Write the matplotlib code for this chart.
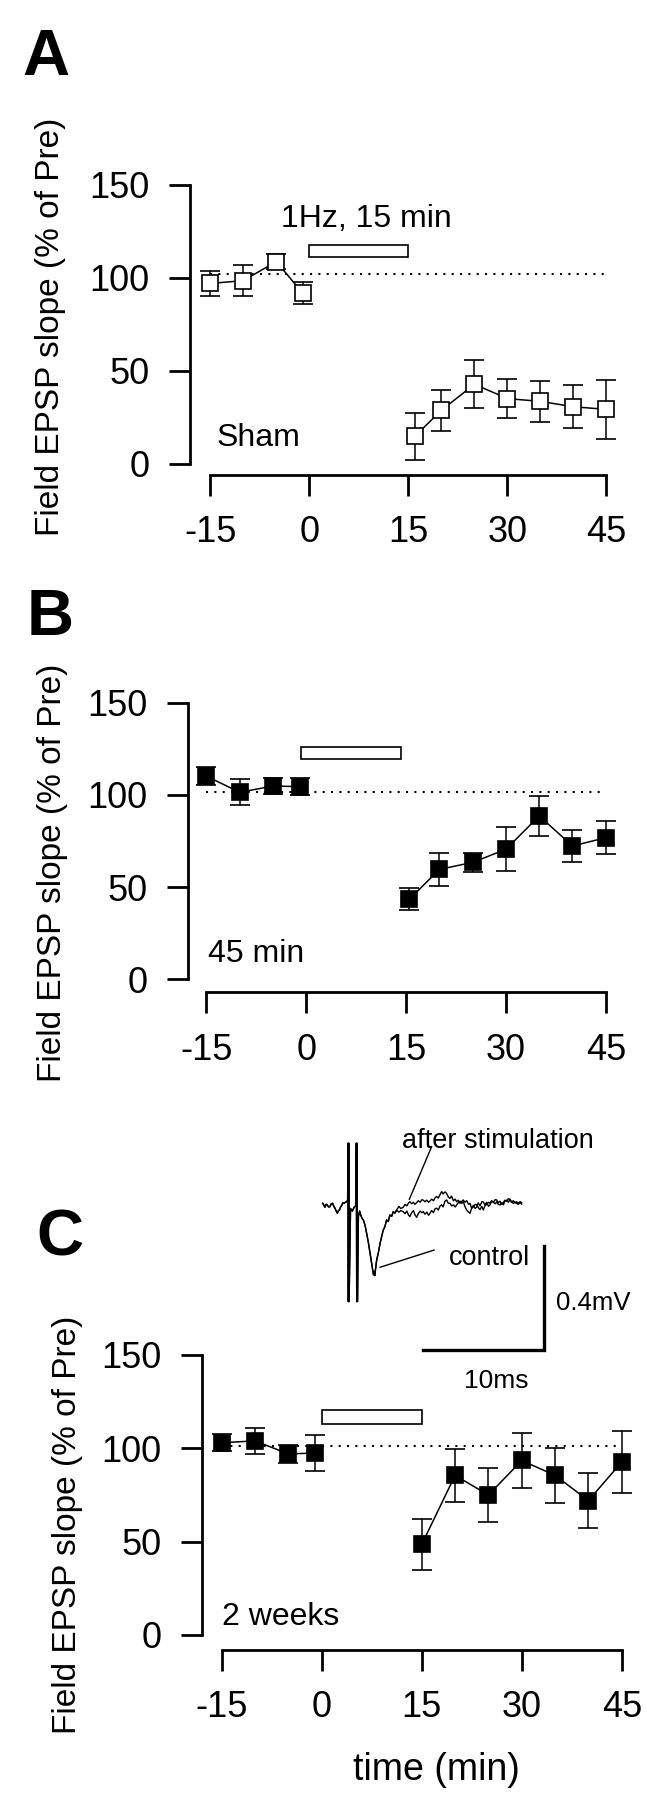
import numpy as np
import matplotlib
matplotlib.use("Agg")
import matplotlib.pyplot as plt
from matplotlib.patches import Rectangle

plt.rcParams['font.family'] = ['Liberation Sans', 'DejaVu Sans']
plt.rcParams['axes.unicode_minus'] = False

# ---------------- data ----------------
xticks = [-15, 0, 15, 30, 45]
yticks = [0, 50, 100, 150]

# Panel A (Sham) - open squares
A_t_pre = [-15, -10, -5, -1]
A_v_pre = [97.0, 98.5, 108.8, 91.7]
A_e_pre = [6.5, 8.5, 4.0, 6.0]
A_t_post = [16, 20, 25, 30, 35, 40, 45]
A_v_post = [14.8, 28.7, 42.7, 35.0, 33.5, 30.6, 29.2]
A_e_post = [12.7, 11.0, 13.0, 10.6, 11.0, 11.5, 16.0]

# Panel B (45 min)
B_t_pre = [-15, -10, -5, -1]
B_v_pre = [110.2, 101.4, 104.8, 104.5]
B_e_pre = [5.0, 7.0, 4.5, 4.5]
B_t_post = [15.5, 20, 25, 30, 35, 40, 45]
B_v_post = [43.4, 59.6, 63.4, 70.5, 88.6, 72.3, 76.8]
B_e_post = [6.0, 9.0, 5.0, 12.0, 11.0, 8.7, 9.0]

# Panel C (2 weeks)
C_t_pre = [-15, -10, -5, -1]
C_v_pre = [103.0, 104.0, 97.0, 97.5]
C_e_pre = [4.5, 7.0, 4.7, 9.8]
C_t_post = [15, 20, 25, 30, 35, 40, 45]
C_v_post = [48.5, 85.5, 75.0, 93.5, 85.5, 72.0, 92.7]
C_e_post = [13.8, 14.0, 14.5, 14.5, 14.7, 14.8, 16.7]

baseline_levels = [102.0, 101.5, 101.0]
stim_boxes = [(0, 111.2, 15, 6.5), (-0.75, 119.3, 15, 6.8), (0, 113.0, 15, 7.5)]
panel_notes = ["Sham", "45 min", "2 weeks"]
stim_label = "1Hz, 15 min"
ylabel = "Field EPSP slope (% of Pre)"
xlabel = "time (min)"

# Inset field potential traces (ms, mV)
tr_t_pre = [0.00, 0.10, 0.19, 0.28, 0.38, 0.48, 0.60, 0.70, 0.82, 0.92, 1.02, 1.12,
            1.21, 1.30, 1.38, 1.48, 1.57, 1.66, 1.76, 1.87, 1.98, 2.06, 2.09, 2.12,
            2.15, 2.18, 2.30, 2.45, 2.60, 2.72, 2.78, 2.81, 2.84, 2.87, 2.95, 3.05,
            3.14, 3.25, 3.36, 3.50, 3.63, 3.77, 3.91, 4.02, 4.13, 4.20, 4.24, 4.30,
            4.35, 4.46, 4.60, 4.74, 4.87, 5.00, 5.14, 5.28, 5.42, 5.55, 5.70, 5.83, 5.97]
tr_v_pre = [0.000, -0.008, -0.015, -0.004, -0.006, -0.014, -0.013, -0.002, 0.000, -0.012,
            -0.019, -0.030, -0.038, -0.028, -0.026, -0.014, -0.008, 0.002, 0.000, 0.004,
            0.006, 0.012, 0.231, -0.378, 0.231, -0.378, -0.020, -0.030, -0.015, -0.010,
            0.231, -0.378, 0.231, -0.378, -0.051, -0.030, -0.045, -0.058, -0.064, -0.085,
            -0.115, -0.150, -0.192, -0.226, -0.256, -0.275, -0.262, -0.278, -0.260, -0.218,
            -0.190, -0.154, -0.128, -0.103, -0.090, -0.064, -0.070, -0.045, -0.050, -0.032, -0.038]
tr_t_post = [6.10, 6.30, 6.45, 6.66, 6.80, 6.95, 7.10, 7.21, 7.35, 7.50, 7.62, 7.76, 7.90,
             8.05, 8.20, 8.31, 8.45, 8.60, 8.75, 8.87, 9.00, 9.15, 9.30, 9.42, 9.55, 9.70,
             9.83, 9.95, 10.10, 10.24, 10.38, 10.52, 10.65, 10.80, 10.95, 11.07, 11.20, 11.35,
             11.50, 11.62, 11.75, 11.90, 12.05, 12.17, 12.30, 12.45, 12.60, 12.72, 12.85, 13.00,
             13.15, 13.27, 13.40, 13.55, 13.70, 13.83, 13.95, 14.10, 14.25, 14.38, 14.50, 14.65,
             14.80, 14.93, 15.05, 15.20, 15.35, 15.48, 15.60, 15.75, 15.90, 16.03, 16.15, 16.30, 16.44]
tr_after = [-0.026, -0.012, -0.020, -0.015, -0.004, -0.010, 0.002, 0.006, -0.002, 0.004,
            -0.004, 0.002, 0.010, 0.004, 0.014, 0.012, 0.006, 0.012, 0.004, 0.009,
            0.016, 0.010, 0.022, 0.026, 0.020, 0.034, 0.045, 0.036, 0.044, 0.038,
            0.024, 0.019, 0.028, 0.010, 0.016, 0.006, 0.012, 0.000, 0.008, 0.013,
            0.004, 0.010, -0.004, 0.000, -0.018, -0.008, -0.020, -0.015, 0.002, -0.010,
            0.006, 0.006, -0.006, 0.004, -0.012, -0.006, 0.010, 0.004, 0.014, 0.013,
            0.002, 0.008, -0.004, 0.003, 0.012, 0.008, 0.018, 0.015, 0.004, 0.010,
            0.002, 0.006, 0.000, 0.006, 0.003]
tr_control = [-0.026, -0.034, -0.028, -0.032, -0.040, -0.030, -0.046, -0.051, -0.036, -0.028,
              -0.044, -0.054, -0.040, -0.030, -0.036, -0.032, -0.042, -0.034, -0.046, -0.038,
              -0.028, -0.036, -0.020, -0.019, -0.026, -0.010, -0.006, -0.014, 0.008, 0.013,
              0.000, 0.000, -0.010, -0.006, -0.014, -0.006, 0.002, 0.008, 0.000, 0.006,
              -0.012, -0.026, -0.034, -0.038, -0.020, -0.014, -0.004, -0.006, -0.016, -0.024,
              -0.012, -0.026, -0.010, -0.004, 0.004, 0.000, 0.008, 0.004, -0.002, 0.006,
              -0.004, -0.006, 0.002, -0.006, 0.008, 0.012, 0.004, 0.015, 0.006, 0.000,
              0.004, 0.000, -0.004, 0.002, -0.003]

# ---------------- figure ----------------
W, H = 647, 1800
fig = plt.figure(figsize=(W / 100, H / 100), dpi=100)


def rect(x0, x1, ytop, ybot):
    return [x0 / W, 1 - ybot / H, (x1 - x0) / W, (ybot - ytop) / H]


def ftext(x, y, s, **kw):
    return fig.text(x / W, 1 - y / H, s, **kw)


# (spine x, right x, top y, bottom y, xlim left, bottom spine offset px)
layouts = [
    (189.8, 619.7, 185.0, 463.6, -18.1, 11.4),
    (187.7, 619.1, 702.7, 979.3, -17.8, 13.0),
    (201.7, 635.1, 1355.0, 1635.0, -18.0, 15.0),
]

datasets = [
    (A_t_pre, A_v_pre, A_e_pre, A_t_post, A_v_post, A_e_post, False, 11),
    (B_t_pre, B_v_pre, B_e_pre, B_t_post, B_v_post, B_e_post, True, 12),
    (C_t_pre, C_v_pre, C_e_pre, C_t_post, C_v_post, C_e_post, True, 12),
]

note_pos = [(-14.1, 9.3), (-14.8, 9.5), (-14.9, 5.4)]
axes = []
for i, ((sx, rx, ty, by, xl, off), ds) in enumerate(zip(layouts, datasets)):
    ax = fig.add_axes(rect(sx, rx, ty, by))
    axes.append(ax)
    tp, vp, ep, tq, vq, eq, filled, ms = ds
    ax.set_xlim(xl, 47)
    ax.set_ylim(0, 150)
    ax.plot([-15, 45], [baseline_levels[i]] * 2, color='k', lw=1.5,
            ls=(0, (1, 3)), zorder=1)
    for t, v, e in ((tp, vp, ep), (tq, vq, eq)):
        ax.errorbar(t, v, yerr=e, fmt='-s', color='k', ms=ms,
                    mfc='k' if filled else 'white', mec='k', mew=1.2,
                    lw=1.1, elinewidth=1.1, capsize=7.5, capthick=1.1, zorder=3)
    bx, by0, bw, bh = stim_boxes[i]
    ax.add_patch(Rectangle((bx, by0), bw, bh, facecolor='white', edgecolor='k',
                           lw=1.2, zorder=2))
    ax.text(note_pos[i][0], note_pos[i][1], panel_notes[i], fontsize=23,
            ha='left', va='baseline')
    for s in ('top', 'right'):
        ax.spines[s].set_visible(False)
    ax.spines['left'].set_bounds(0, 150)
    ax.spines['bottom'].set_bounds(-15, 45)
    ax.spines['bottom'].set_position(('outward', off * 0.72))
    for s in ('left', 'bottom'):
        ax.spines[s].set_linewidth(2.0)
    ax.set_xticks(xticks)
    ax.set_yticks(yticks)
    ax.tick_params(direction='out', length=15, width=2.0, labelsize=26, pad=14)
    ax.patch.set_visible(False)

axes[0].text(-4.3, 127.4, stim_label, fontsize=23, ha='left', va='baseline')

# y labels
for (x, y) in [(50.6, 327), (52.5, 873), (67.5, 1525)]:
    ftext(x, y, ylabel, rotation=90, ha='center', va='center', fontsize=24)

ftext(436, 1770, xlabel, ha='center', va='center', fontsize=27)

# panel letters
for (x, y, s) in [(22.5, 75, 'A'), (26.5, 635, 'B'), (36, 1255, 'C')]:
    ftext(x, y, s, fontsize=47, fontweight='bold', ha='left', va='baseline')

# ---------------- inset ----------------
ai = fig.add_axes(rect(300, 640, 1120, 1400))
ai.set_xlim(-1.876, 26.22)
ai.set_ylim(-0.7565, 0.3204)
ai.axis('off')
ai.patch.set_visible(False)
ai.plot(tr_t_pre + tr_t_post, tr_v_pre + tr_control, color='k', lw=1.0)
ai.plot(tr_t_pre + tr_t_post, tr_v_pre + tr_after, color='k', lw=1.0)
# scale bars: 10 ms, 0.4 mV
ai.plot([8.29, 18.29, 18.29], [-0.5642, -0.5642, -0.1642], color='k', lw=2.4,
        solid_joinstyle='miter')
ai.text(19.28, -0.410, "0.4mV", fontsize=18.5, ha='left', va='baseline')
ai.text(11.68, -0.7115, "10ms", fontsize=19, ha='left', va='baseline')
ai.text(6.53, 0.213, "after stimulation", fontsize=19.5, ha='left', va='baseline')
ai.text(10.44, -0.237, "control", fontsize=19.5, ha='left', va='baseline')
ai.plot([9.0, 7.16], [0.2177, 0.0154], color='k', lw=1.0)
ai.plot([9.2, 4.74], [-0.18, -0.246], color='k', lw=1.0)

fig.savefig("out.png", dpi=100)
